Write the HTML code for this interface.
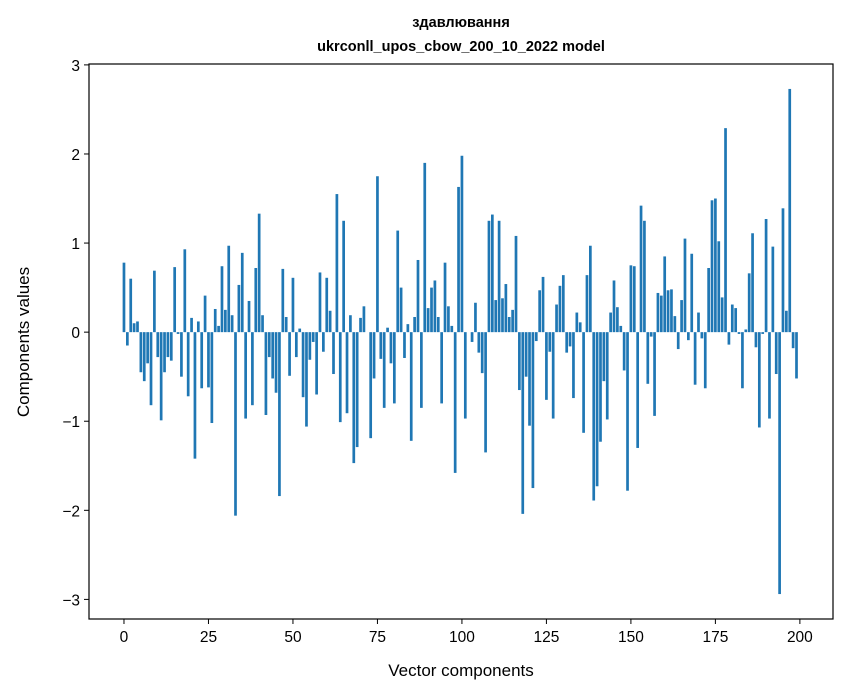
<!DOCTYPE html>
<html><head><meta charset="utf-8"><style>
body{margin:0;background:#fff;}
svg{display:block;font-family:"Liberation Sans","DejaVu Sans",sans-serif;}
</style></head><body>
<svg id="chart" width="847" height="696">
<text x="461" y="27" text-anchor="middle" font-size="14.5" font-weight="bold">здавлювання</text>
<text x="461" y="51" text-anchor="middle" font-size="14.5" font-weight="bold">ukrconll_upos_cbow_200_10_2022 model</text>
<g id="bars"></g>
<g id="axes"></g>
<text x="461" y="676" text-anchor="middle" font-size="17">Vector components</text>
<text transform="translate(29,342) rotate(-90)" text-anchor="middle" font-size="17">Components values</text>
</svg>
<script>
const values = [0.78,-0.15,0.6,0.1,0.12,-0.45,-0.55,-0.35,-0.82,0.69,
-0.28,-0.99,-0.45,-0.28,-0.32,0.73,-0.02,-0.5,0.93,-0.72,
0.16,-1.42,0.12,-0.63,0.41,-0.62,-1.02,0.26,0.07,0.74,
0.25,0.97,0.19,-2.06,0.53,0.89,-0.97,0.35,-0.82,0.72,
1.33,0.19,-0.93,-0.28,-0.52,-0.68,-1.84,0.71,0.17,-0.49,
0.61,-0.28,0.04,-0.73,-1.06,-0.31,-0.11,-0.7,0.67,-0.22,
0.61,0.24,-0.47,1.55,-1.01,1.25,-0.91,0.19,-1.47,-1.29,
0.16,0.29,0.0,-1.19,-0.52,1.75,-0.3,-0.85,0.05,-0.35,
-0.8,1.14,0.5,-0.29,0.09,-1.22,0.17,0.81,-0.85,1.9,
0.27,0.5,0.58,0.17,-0.8,0.78,0.29,0.07,-1.58,1.63,
1.98,-0.97,0.0,-0.11,0.33,-0.23,-0.46,-1.35,1.25,1.32,
0.36,1.25,0.38,0.54,0.17,0.25,1.08,-0.65,-2.04,-0.5,
-1.05,-1.75,-0.1,0.47,0.62,-0.76,-0.22,-0.97,0.31,0.52,
0.64,-0.23,-0.16,-0.74,0.22,0.11,-1.13,0.64,0.97,-1.89,
-1.73,-1.23,-0.55,-0.98,0.22,0.58,0.28,0.07,-0.43,-1.78,
0.75,0.74,-1.3,1.42,1.25,-0.58,-0.05,-0.94,0.44,0.41,
0.85,0.47,0.48,0.18,-0.19,0.36,1.05,-0.09,0.88,-0.59,
0.22,-0.07,-0.63,0.72,1.48,1.5,1.02,0.39,2.29,-0.14,
0.31,0.27,-0.02,-0.63,0.03,0.66,1.11,-0.17,-1.07,-0.02,
1.27,-0.97,0.96,-0.47,-2.94,1.39,0.24,2.73,-0.18,-0.52];
const xTicks = [0,25,50,75,100,125,150,175,200];
const yTicks = [-3,-2,-1,0,1,2,3];
const L=89,R=833,T=64,B=619;
const xMin=-10.35,xMax=209.8,yMin=-3.22,yMax=3.01;
const sx=v=>L+(v-xMin)/(xMax-xMin)*(R-L);
const sy=v=>T+(yMax-v)/(yMax-yMin)*(B-T);
const NS="http://www.w3.org/2000/svg";
const bars=document.getElementById('bars');
values.forEach((v,i)=>{
  const r=document.createElementNS(NS,'rect');
  const x0=sx(i-0.4),x1=sx(i+0.4);
  const y0=sy(Math.max(v,0)),y1=sy(Math.min(v,0));
  r.setAttribute('x',x0);r.setAttribute('width',x1-x0);
  r.setAttribute('y',y0);r.setAttribute('height',Math.max(y1-y0,0));
  r.setAttribute('fill','#1f77b4');
  
  
  bars.appendChild(r);
});
const ax=document.getElementById('axes');
const frame=document.createElementNS(NS,'rect');
frame.setAttribute('x',L);frame.setAttribute('y',T);frame.setAttribute('width',R-L);frame.setAttribute('height',B-T);
frame.setAttribute('fill','none');frame.setAttribute('stroke','#000');frame.setAttribute('stroke-width','1.2');


ax.appendChild(frame);
xTicks.forEach(t=>{
  const x=sx(t);
  const l=document.createElementNS(NS,'line');
  l.setAttribute('x1',x);l.setAttribute('x2',x);l.setAttribute('y1',B);l.setAttribute('y2',B+5);l.setAttribute('stroke','#000');
  
  
  ax.appendChild(l);
  const tx=document.createElementNS(NS,'text');
  tx.setAttribute('x',x);tx.setAttribute('y',B+23);tx.setAttribute('text-anchor','middle');tx.setAttribute('font-size','15.5');
  tx.textContent=t;
  
  
  ax.appendChild(tx);
});
yTicks.forEach(t=>{
  const y=sy(t);
  const l=document.createElementNS(NS,'line');
  l.setAttribute('x1',L-5);l.setAttribute('x2',L);l.setAttribute('y1',y);l.setAttribute('y2',y);l.setAttribute('stroke','#000');
  
  
  ax.appendChild(l);
  const tx=document.createElementNS(NS,'text');
  tx.setAttribute('x',L-9);tx.setAttribute('y',y+6);tx.setAttribute('text-anchor','end');tx.setAttribute('font-size','15.5');
  tx.textContent=t<0?'\u2212'+Math.abs(t):t;
  
  
  ax.appendChild(tx);
});
</script>
</body></html>
